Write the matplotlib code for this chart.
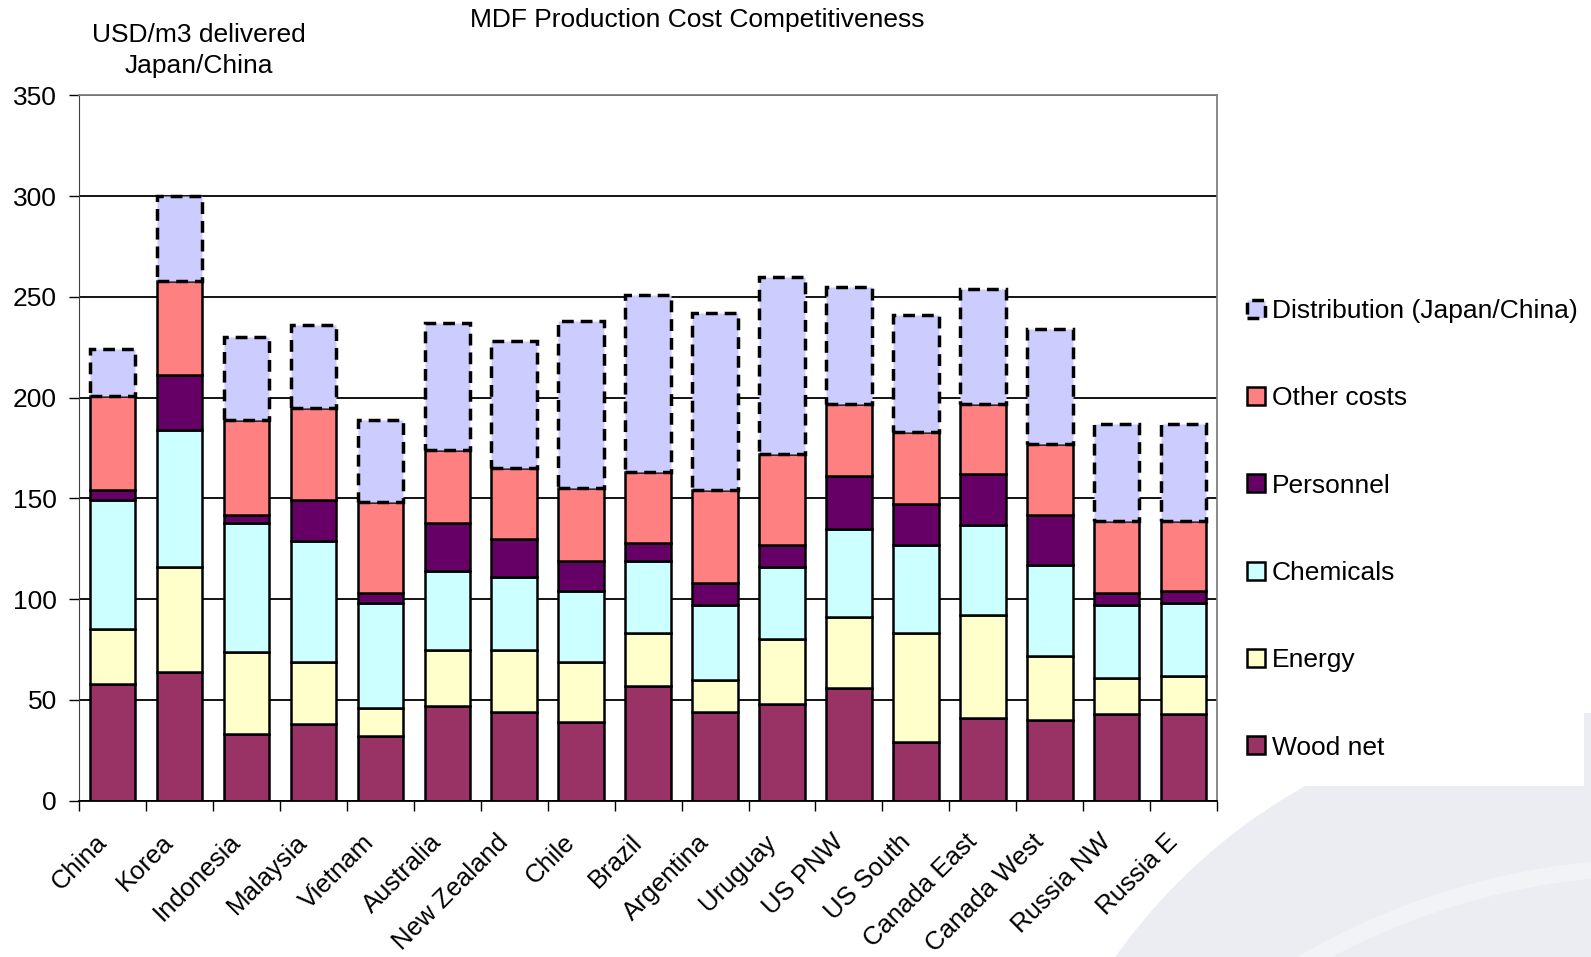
import numpy as np
import matplotlib.pyplot as plt
from matplotlib.patches import Circle, Rectangle
from matplotlib.transforms import ScaledTranslation

plt.rcParams['font.family'] = ['Liberation Sans', 'DejaVu Sans']

# cost build-up per producing region, USD/m3 delivered Japan/China
regions = ['China', 'Korea', 'Indonesia', 'Malaysia', 'Vietnam', 'Australia',
           'New Zealand', 'Chile', 'Brazil', 'Argentina', 'Uruguay', 'US PNW',
           'US South', 'Canada East', 'Canada West', 'Russia NW', 'Russia E']

wood_net = [58, 64, 33, 38, 32, 47, 44, 39, 57, 44, 48, 56, 29, 41, 40, 43, 43]
energy = [27, 52, 41, 31, 14, 28, 31, 30, 26, 16, 32, 35, 54, 51, 32, 18, 19]
chemicals = [64, 68, 64, 60, 52, 39, 36, 35, 36, 37, 36, 44, 44, 45, 45, 36, 36]
personnel = [5, 27, 4, 20, 5, 24, 19, 15, 9, 11, 11, 26, 20, 25, 25, 6, 6]
other_costs = [47, 47, 47, 46, 45, 36, 35, 36, 35, 46, 45, 36, 36, 35, 35, 36, 35]
distribution = [23, 42, 41, 41, 41, 63, 63, 83, 88, 88, 88, 58, 58, 57, 57, 48, 48]

series = [
    ('Wood net', wood_net, '#993366'),
    ('Energy', energy, '#FFFFCC'),
    ('Chemicals', chemicals, '#CCFFFF'),
    ('Personnel', personnel, '#660066'),
    ('Other costs', other_costs, '#FF8080'),
    ('Distribution (Japan/China)', distribution, '#CCCCFF'),
]

FS = 19

fig = plt.figure(figsize=(15.91, 9.57), dpi=100)

# faint background swoosh in the lower right corner
fig.add_artist(Circle((15.86, -3.32), 5.76, transform=fig.dpi_scale_trans,
                      facecolor='#ecedf3', edgecolor='none', zorder=-3))
fig.add_artist(Circle((16.6, -6.2), 7.1, transform=fig.dpi_scale_trans,
                      facecolor='none', edgecolor='white', lw=12, alpha=0.35,
                      zorder=-2.5))
fig.add_artist(Rectangle((0, 1.71), 15.84, 7.86, transform=fig.dpi_scale_trans,
                         facecolor='white', edgecolor='none', zorder=-2))

ax = fig.add_axes([0.0497, 0.1634, 0.7153, 0.7369])
ax.set_axisbelow(True)

x = np.arange(len(regions))
bottom = np.zeros(len(regions))
for name, vals, col in series:
    vals = np.array(vals, dtype=float)
    if name.startswith('Distribution'):
        ax.bar(x, vals, 0.68, bottom=bottom, color=col, edgecolor='black',
               linewidth=2.5, linestyle=(0, (3.4, 2.0)), label=name)
    else:
        ax.bar(x, vals, 0.68, bottom=bottom, color=col, edgecolor='black',
               linewidth=1.8, label=name)
    bottom += vals

ax.set_xlim(-0.5, len(regions) - 0.5)
ax.set_ylim(0, 350)
ax.set_yticks(np.arange(0, 351, 50))
ax.yaxis.grid(True, color='black', linewidth=1.3)
ax.tick_params(axis='y', labelsize=FS, length=7, width=1, pad=9, direction='out')

ax.set_xticks(x)
ax.set_xticks(np.arange(-0.5, len(regions), 1), minor=True)
ax.set_xticklabels(regions, rotation=45, ha='right', rotation_mode='anchor',
                   fontsize=18.5)
ax.tick_params(axis='x', which='major', length=0, pad=21)
ax.tick_params(axis='x', which='minor', length=7, width=1, direction='out')
shift = ScaledTranslation(-0.18, 0, fig.dpi_scale_trans)
for lbl in ax.get_xticklabels():
    lbl.set_transform(lbl.get_transform() + shift)

for side in ['top', 'right']:
    ax.spines[side].set_color('#808080')
    ax.spines[side].set_linewidth(1.3)
ax.spines['left'].set_color('#404040')
ax.spines['bottom'].set_color('black')
ax.spines['bottom'].set_linewidth(1.3)

handles, labels = ax.get_legend_handles_labels()
fig.legend(handles[::-1], labels[::-1], loc='center left',
           bbox_to_anchor=(0.784, 0.447), frameon=False, fontsize=FS,
           borderpad=0, borderaxespad=0, handlelength=0.68, handleheight=0.68,
           handletextpad=0.25, labelspacing=2.4)

fig.text(0.438, 0.9796, 'MDF Production Cost Competitiveness', fontsize=FS,
         ha='center', va='center')
fig.text(0.125, 0.947, 'USD/m3 delivered\nJapan/China', fontsize=FS,
         ha='center', va='center', linespacing=1.35)

fig.savefig('out.png', dpi=100)
